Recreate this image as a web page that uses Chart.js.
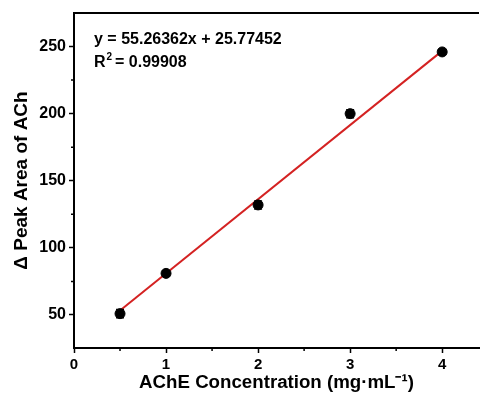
<!DOCTYPE html>
<html>
<head>
<meta charset="utf-8">
<script src="https://cdn.jsdelivr.net/npm/chart.js@4/dist/chart.umd.min.js"></script>
<style>
  html, body { margin: 0; padding: 0; background: #fff; }
  #wrap { width: 481px; height: 394px; }
</style>
</head>
<body>
<div id="wrap"><canvas id="c"></canvas></div>
<script>
// AChE calibration: measured points with error bars + linear fit
const conc = [0.5, 1, 2, 3, 4];
const peakArea = [51, 81, 132, 200, 246];
const peakErr = [3, 2, 3, 3, 2];
const fitX = [0.5, 4];
const fitY = [53.4, 246.8];
const xTicks = [0, 1, 2, 3, 4];
const yTicks = [50, 100, 150, 200, 250];
const xMinor = [0.5, 1.5, 2.5, 3.5];
const yMinor = [75, 125, 175, 225];
const eqText = 'y = 55.26362x + 25.77452';
const r2Text = '0.99908';

const FONT = '"Liberation Sans", Arial, sans-serif';

// error bars, drawn through the scales
const errorBars = {
  id: 'errorBars',
  afterDatasetsDraw(chart) {
    const { ctx, scales: { x, y } } = chart;
    ctx.save();
    ctx.strokeStyle = '#000';
    ctx.lineWidth = 1.5;
    conc.forEach((c, i) => {
      const px = x.getPixelForValue(c);
      const top = y.getPixelForValue(peakArea[i] + peakErr[i]);
      const bot = y.getPixelForValue(peakArea[i] - peakErr[i]);
      ctx.beginPath();
      ctx.moveTo(px, top); ctx.lineTo(px, bot);
      ctx.moveTo(px - 4, top); ctx.lineTo(px + 4, top);
      ctx.moveTo(px - 4, bot); ctx.lineTo(px + 4, bot);
      ctx.stroke();
    });
    ctx.restore();
  }
};

// top frame line, minor ticks, equation text
const frame = {
  id: 'frame',
  afterDraw(chart) {
    const { ctx, chartArea: a, scales: { x, y } } = chart;
    ctx.save();
    ctx.strokeStyle = '#000';
    ctx.lineWidth = 2;
    ctx.beginPath();
    ctx.moveTo(a.left - 1, a.top); ctx.lineTo(a.right, a.top);
    ctx.stroke();

    ctx.lineWidth = 1.5;
    ctx.beginPath();
    xMinor.forEach(v => {
      const p = x.getPixelForValue(v);
      ctx.moveTo(p, a.bottom); ctx.lineTo(p, a.bottom + 3);
    });
    yMinor.forEach(v => {
      const p = y.getPixelForValue(v);
      ctx.moveTo(a.left, p); ctx.lineTo(a.left - 3, p);
    });
    ctx.stroke();

    ctx.fillStyle = '#000';
    ctx.font = 'bold 16px ' + FONT;
    ctx.textBaseline = 'alphabetic';
    ctx.fillText(eqText, 94, 44);
    ctx.fillText('R', 94, 67);
    const rw = ctx.measureText('R').width;
    ctx.font = 'bold 10px ' + FONT;
    ctx.fillText('2', 94 + rw + 1, 60);
    ctx.font = 'bold 16px ' + FONT;
    ctx.fillText(' = ' + r2Text, 94 + rw + 5, 67);
    ctx.restore();
  }
};

new Chart(document.getElementById('c'), {
  type: 'scatter',
  data: {
    datasets: [
      {
        label: 'fit',
        type: 'line',
        data: fitX.map((v, i) => ({ x: v, y: fitY[i] })),
        borderColor: '#d42222',
        borderWidth: 2,
        pointRadius: 0,
        fill: false,
        order: 2,
      },
      {
        label: 'data',
        data: conc.map((v, i) => ({ x: v, y: peakArea[i] })),
        backgroundColor: '#000',
        borderColor: '#000',
        pointRadius: 5,
        order: 1,
      },
    ],
  },
  options: {
    responsive: true,
    maintainAspectRatio: false,
    animation: false,
    layout: { autoPadding: false, padding: { top: 13, right: 2, left: 0, bottom: 0 } },
    plugins: { legend: { display: false }, tooltip: { enabled: false } },
    scales: {
      x: {
        type: 'linear',
        min: 0,
        max: 4.4,
        afterBuildTicks: s => { s.ticks = xTicks.map(v => ({ value: v })); },
        afterFit: s => { s.height = 46; s.paddingRight = 0; s.paddingLeft = 0; },
        ticks: {
          autoSkip: false,
          color: '#000', font: { family: FONT, size: 15, weight: 'bold' }, padding: 3,
        },
        grid: { drawOnChartArea: false, tickLength: 5, tickColor: '#000', tickWidth: 1.5 },
        border: { color: '#000', width: 2 },
        title: {
          display: true,
          text: 'AChE Concentration (mg·mL⁻¹)',
          color: '#000',
          font: { family: FONT, size: 18.7, weight: 'bold' },
          padding: { top: 0, bottom: 0 },
        },
      },
      y: {
        min: 25.4,
        max: 275,
        afterBuildTicks: s => { s.ticks = yTicks.map(v => ({ value: v })); },
        afterFit: s => { s.width = 74; },
        ticks: {
          autoSkip: false,
          color: '#000', font: { family: FONT, size: 16, weight: 'bold' }, padding: 3,
        },
        grid: { drawOnChartArea: false, tickLength: 5, tickColor: '#000', tickWidth: 1.5 },
        border: { color: '#000', width: 2 },
        title: {
          display: true,
          text: 'Δ Peak Area of ACh',
          color: '#000',
          font: { family: FONT, size: 19, weight: 'bold' },
          padding: { top: 10, bottom: 0 },
        },
      },
    },
  },
  plugins: [errorBars, frame],
});
</script>
</body>
</html>
